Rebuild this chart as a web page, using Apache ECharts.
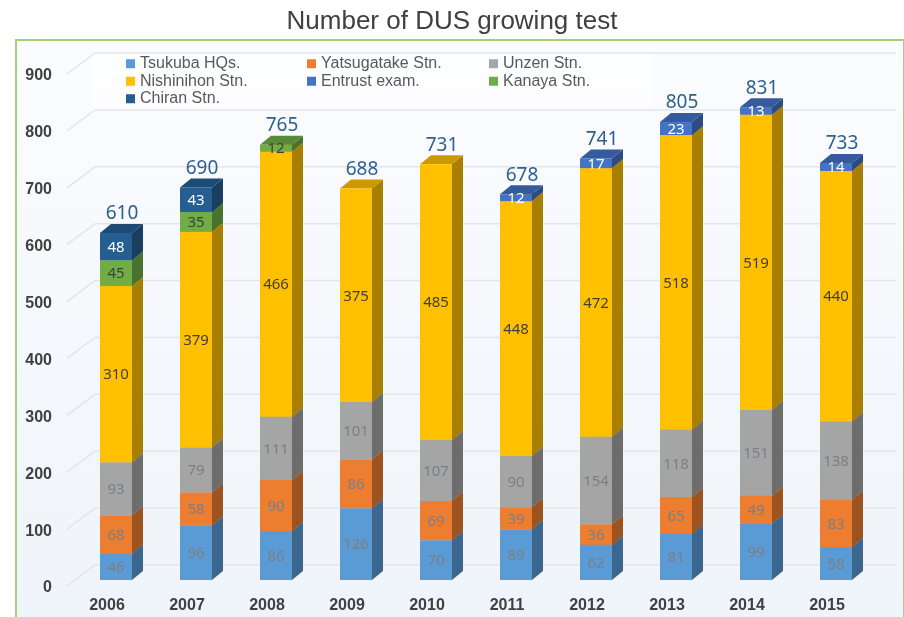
<!DOCTYPE html>
<html>
<head>
<meta charset="utf-8">
<script src="https://cdn.jsdelivr.net/npm/echarts@6/dist/echarts.min.js"></script>
<style>
  html, body { margin: 0; padding: 0; background: #fff; }
  #chart { width: 904px; height: 617px; }
</style>
</head>
<body>
<div id="chart"></div>
<script>
// data
const years = ["2006", "2007", "2008", "2009", "2010", "2011", "2012", "2013", "2014", "2015"];
const tsukuba = [46, 96, 86, 126, 70, 89, 62, 81, 99, 58];
const yatsugatake = [68, 58, 90, 86, 69, 39, 36, 65, 49, 83];
const unzen = [93, 79, 111, 101, 107, 90, 154, 118, 151, 138];
const nishinihon = [310, 379, 466, 375, 485, 448, 472, 518, 519, 440];
const entrust = [0, 0, 0, 0, 0, 12, 17, 23, 13, 14];
const kanaya = [45, 35, 12, 0, 0, 0, 0, 0, 0, 0];
const chiran = [48, 43, 0, 0, 0, 0, 0, 0, 0, 0];
const yTicks = [0, 100, 200, 300, 400, 500, 600, 700, 800, 900];

// stack order, bottom -> top
const stacks = [
  { name: "Tsukuba HQs.", values: tsukuba, color: "#5b9bd5", text: "#7a7f86" },
  { name: "Yatsugatake Stn.", values: yatsugatake, color: "#ed7d31", text: "#7a7f86" },
  { name: "Unzen Stn.", values: unzen, color: "#a5a5a5", text: "#7a7f86" },
  { name: "Nishinihon Stn.", values: nishinihon, color: "#ffc000", text: "#404040" },
  { name: "Entrust exam.", values: entrust, color: "#4472c4", text: "#ffffff" },
  { name: "Kanaya Stn.", values: kanaya, color: "#70ad47", text: "#404040" },
  { name: "Chiran Stn.", values: chiran, color: "#255e91", text: "#ffffff" }
];

const BAR_HALF = 16; // half width of front face
const DX = 11; // depth of the 3d side
const DY = 9;

function shade(hex, k) {
  const n = parseInt(hex.slice(1), 16);
  const r = Math.round(((n >> 16) & 255) * k);
  const g = Math.round(((n >> 8) & 255) * k);
  const b = Math.round((n & 255) * k);
  return "rgb(" + r + "," + g + "," + b + ")";
}

function segmentRender(s) {
  return function(params, api) {
    const val = api.value(2);
    if (!val) return;
    const base = api.value(1);
    const p0 = api.coord([api.value(0), base]);
    const p1 = api.coord([api.value(0), base + val]);
    const l = p0[0] - BAR_HALF;
    const r = p0[0] + BAR_HALF;
    const yb = p0[1];
    const yt = p1[1];
    return {
      type: "group",
      children: [
        {
          type: "polygon",
          shape: { points: [[r, yb], [r, yt], [r + DX, yt - DY], [r + DX, yb - DY]] },
          style: { fill: shade(s.color, 0.66) }
        },
        {
          type: "polygon",
          shape: { points: [[l, yt], [r, yt], [r + DX, yt - DY], [l + DX, yt - DY]] },
          style: { fill: shade(s.color, 0.8) }
        },
        {
          type: "rect",
          shape: { x: l, y: yt, width: r - l, height: yb - yt },
          style: { fill: s.color }
        },
        {
          type: "text",
          x: p0[0],
          y: (yb + yt) / 2 + 1,
          style: {
            text: String(val),
            fill: s.text,
            font: "15px 'Noto Sans', 'DejaVu Sans', sans-serif",
            align: "center",
            verticalAlign: "middle"
          }
        }
      ]
    };
  };
}

const chart = echarts.init(document.getElementById("chart"));

const series = [];

// back wall grid lines (slanted at the left like the 3d floor)
series.push({
  type: "custom",
  silent: true,
  z: 1,
  data: yTicks.map(v => [0, v]),
  renderItem: function(params, api) {
    const cs = params.coordSys;
    const y = api.coord([0, api.value(1)])[1] - 15;
    const x0 = cs.x + 19;
    return {
      type: "polyline",
      shape: { points: [[x0 - 28, y + 21], [x0, y], [cs.x + cs.width + 20, y]] },
      style: { stroke: "#e2e6eb", lineWidth: 1.5, fill: null }
    };
  }
});

stacks.forEach((s, k) => {
  series.push({
    name: s.name,
    type: "custom",
    z: 2,
    itemStyle: { color: s.color },
    data: s.values.map((v, i) => {
      let base = 0;
      for (let j = 0; j < k; j++) base += stacks[j].values[i];
      return [i, base, v];
    }),
    renderItem: segmentRender(s)
  });
});

// totals over each bar
series.push({
  type: "custom",
  silent: true,
  z: 3,
  data: years.map((y, i) => [i, stacks.reduce((a, s) => a + s.values[i], 0)]),
  renderItem: function(params, api) {
    const p = api.coord([api.value(0), api.value(1)]);
    return {
      type: "text",
      x: p[0] + 6,
      y: p[1] - 19,
      style: {
        text: String(api.value(1)),
        fill: "#2e6090",
        font: "19px 'Noto Sans', 'DejaVu Sans', sans-serif",
        align: "center",
        verticalAlign: "middle"
      }
    };
  }
});

const legendBase = {
  orient: "vertical",
  icon: "rect",
  itemWidth: 9,
  itemHeight: 9,
  itemGap: 0,
  padding: 0,
  top: 55,
  textStyle: {
    color: "#595959",
    fontSize: 16,
    lineHeight: 17.5,
    fontFamily: "'Liberation Sans', Arial, sans-serif"
  }
};

const opt = {
  backgroundColor: "#ffffff",
  animation: false,
  title: {
    text: "Number of DUS growing test",
    left: "center",
    top: 4,
    textStyle: {
      color: "#404040",
      fontSize: 26,
      fontWeight: "normal",
      fontFamily: "'Liberation Sans', Arial, sans-serif"
    }
  },
  graphic: [
    {
      type: "rect",
      z: -10,
      shape: { x: 16, y: 40, width: 888, height: 590 },
      style: {
        fill: new echarts.graphic.LinearGradient(0, 0, 0, 1, [
          { offset: 0, color: "#fbfcfe" },
          { offset: 1, color: "#eff4fa" }
        ]),
        stroke: "#9fd37a",
        lineWidth: 2
      }
    },
    {
      type: "rect",
      z: -9,
      shape: { x: 92, y: 52, width: 560, height: 56, r: 4 },
      style: { fill: "rgba(255,255,255,0.6)" }
    }
  ],
  legend: [
    Object.assign({}, legendBase, { left: 126, data: ["Tsukuba HQs.", "Nishinihon Stn.", "Chiran Stn."] }),
    Object.assign({}, legendBase, { left: 307, data: ["Yatsugatake Stn.", "Entrust exam."] }),
    Object.assign({}, legendBase, { left: 489, data: ["Unzen Stn.", "Kanaya Stn."] })
  ],
  grid: {
    left: 76,
    right: 28,
    top: 68,
    bottom: 37
  },
  xAxis: {
    type: "category",
    data: years,
    axisLine: { show: false },
    axisTick: { show: false },
    axisLabel: {
      margin: 18,
      padding: [0, 18, 0, 0],
      color: "#404040",
      fontSize: 16,
      fontWeight: "bold",
      fontFamily: "'Liberation Sans', Arial, sans-serif"
    }
  },
  yAxis: {
    type: "value",
    min: 0,
    max: 900,
    interval: 100,
    axisLine: { show: false },
    axisTick: { show: false },
    splitLine: { show: false },
    axisLabel: {
      margin: 24,
      verticalAlign: "top",
      lineHeight: 16,
      color: "#404040",
      fontSize: 16,
      fontWeight: "bold",
      fontFamily: "'Liberation Sans', Arial, sans-serif"
    }
  },
  series: series
};

chart.setOption(opt);
</script>
</body>
</html>
